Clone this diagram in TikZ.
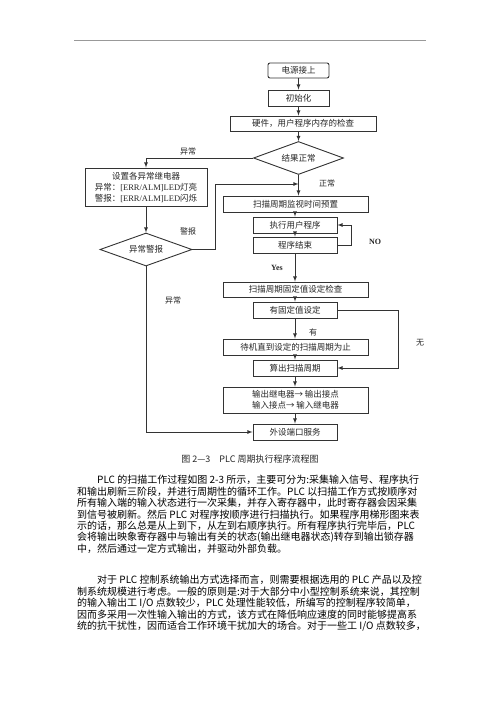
\documentclass[tikz,border=0pt]{standalone}
\usepackage{fontspec}
\setmainfont{Noto Sans CJK SC}
\newfontfamily\lat{Liberation Serif}
\usetikzlibrary{shapes.geometric,arrows}

\begin{document}
\begin{tikzpicture}[x=1pt,y=-1pt,>=latex,
  every node/.style={font=\fontsize{8.5}{11}\selectfont,text=black!85},
  box/.style={draw=black!80,line width=0.9pt,minimum height=16pt,inner sep=1pt},
  dia/.style={draw=black!80,line width=0.9pt,diamond,aspect=2.7,minimum width=90pt,minimum height=33pt,inner sep=0pt},
  flow/.style={->,draw=black!80,line width=0.8pt},
  lbl/.style={font=\fontsize{8}{10}\selectfont},
  txt/.style={anchor=west,inner sep=0pt,text=black,font=\fontsize{10}{12}\selectfont}]
\fill[white] (0,0) rectangle (500,707);
\useasboundingbox (0,0) rectangle (500,707);
\draw[gray!80,line width=1pt] (74,40) -- (426,40);

\node[box,rounded corners=2pt,minimum width=61pt,minimum height=15pt] (pwr) at (298.5,70.5) {电源接上};
\node[box,minimum width=61pt] (init) at (298.5,98) {初始化};
\node[box,minimum width=146pt,minimum height=15pt] (chk) at (303,123.5) {硬件，用户程序内存的检查};
\node[dia] (ok) at (298.5,158) {结果正常};
\node[box,minimum width=122pt,minimum height=38pt,align=center] (err) at (146,187) {设置各异常继电器\\异常：{\lat [ERR/ALM]LED}灯亮\\警报：{\lat [ERR/ALM]LED}闪烁};
\node[dia,minimum width=92pt] (alarm) at (146,249.5) {异常警报};
\node[box,minimum width=145pt] (scan) at (295.5,204) {扫描周期监视时间预置};
\node[box,minimum width=84pt] (exec) at (295,225) {执行用户程序};
\node[box,minimum width=84pt] (endp) at (295,245) {程序结束};
\node[box,minimum width=145pt,minimum height=15pt] (fix) at (295.5,289.5) {扫描周期固定值设定检查};
\node[box,minimum width=84pt] (has) at (295,310) {有固定值设定};
\node[box,minimum width=145pt] (wait) at (295.5,347) {待机直到设定的扫描周期为止};
\node[box,minimum width=84pt] (calc) at (295,368) {算出扫描周期};
\node[box,minimum width=145pt,minimum height=26pt,align=center] (io) at (295.5,400) {输出继电器→ 输出接点\\输入接点→ 输入继电器};
\node[box,minimum width=84pt] (svc) at (295,432) {外设端口服务};
\coordinate (merge) at (298.5,184);

\draw[flow] (pwr) -- (init);
\draw[flow] (init.south) -- (init.south |- chk.north);
\draw[flow] (ok.north |- chk.south) -- (ok.north);
\draw[flow] (ok.south) -- (ok.south |- scan.north);
\draw[flow] (ok.west) -| (err.north);
\draw[flow] (err) -- (alarm);
\draw[flow] (alarm.east) -- ++(23,0) |- (merge);
\draw[flow] (alarm.south) |- (svc.west);
\draw[flow] (exec.north |- scan.south) -- (exec.north);
\draw[flow] (exec) -- (endp);
\draw[flow] (endp.east) -- ++(14,0) |- (exec.east);
\draw[flow] (endp) -- (endp.south |- fix.north);
\draw[flow] (has.north |- fix.south) -- (has.north);
\draw[flow] (has.east) -- ++(61,0) |- (calc.east);
\draw[flow] (has) -- (wait.north -| has);
\draw[flow] (calc.north |- wait.south) -- (calc.north);
\draw[flow] (calc) -- (io.north -| calc);
\draw[flow] (io.south -| svc) -- (svc);

\node[lbl] (l1) at (188,151) {异常};
\node[lbl] (l2) at (327,183) {正常};
\node[lbl] (l3) at (188,231) {警报};
\node[lbl] (l4) at (375,242) {\lat\bfseries NO};
\node[lbl] (l5) at (277,268) {\lat\bfseries Yes};
\node[lbl] (l6) at (173,300) {异常};
\node[lbl] (l7) at (313,332) {有};
\node[lbl] (l8) at (420,343) {无};

\node[font=\fontsize{9}{11}\selectfont] (cap) at (250,459) {图 2—3\quad PLC 周期执行程序流程图};

\node[txt] (p1) at (97,480) {PLC 的扫描工作过程如图 2-3 所示，主要可分为:采集输入信号、程序执行};
\node[txt] (p2) at (77,491.5) {和输出刷新三阶段，并进行周期性的循环工作。PLC 以扫描工作方式按顺序对};
\node[txt] (p3) at (77,503) {所有输入端的输入状态进行一次采集，并存入寄存器中，此时寄存器会因采集};
\node[txt] (p4) at (77,514.5) {到信号被刷新。然后 PLC 对程序按顺序进行扫描执行。如果程序用梯形图来表};
\node[txt] (p5) at (77,526) {示的话，那么总是从上到下，从左到右顺序执行。所有程序执行完毕后，PLC};
\node[txt] (p6) at (77,537.5) {会将输出映象寄存器中与输出有关的状态(输出继电器状态)转存到输出锁存器};
\node[txt] (p7) at (77,549) {中，然后通过一定方式输出，并驱动外部负载。};

\node[txt] (q1) at (97,580) {对于 PLC 控制系统输出方式选择而言，则需要根据选用的 PLC 产品以及控};
\node[txt] (q2) at (77,591.5) {制系统规模进行考虑。一般的原则是:对于大部分中小型控制系统来说，其控制};
\node[txt] (q3) at (77,603) {的输入输出工 I/O 点数较少，PLC 处理性能较低，所编写的控制程序较简单，};
\node[txt] (q4) at (77,614.5) {因而多采用一次性输入输出的方式，该方式在降低响应速度的同时能够提高系};
\node[txt] (q5) at (77,626) {统的抗干扰性，因而适合工作环境干扰加大的场合。对于一些工 I/O 点数较多，};
\end{tikzpicture}
\end{document}
